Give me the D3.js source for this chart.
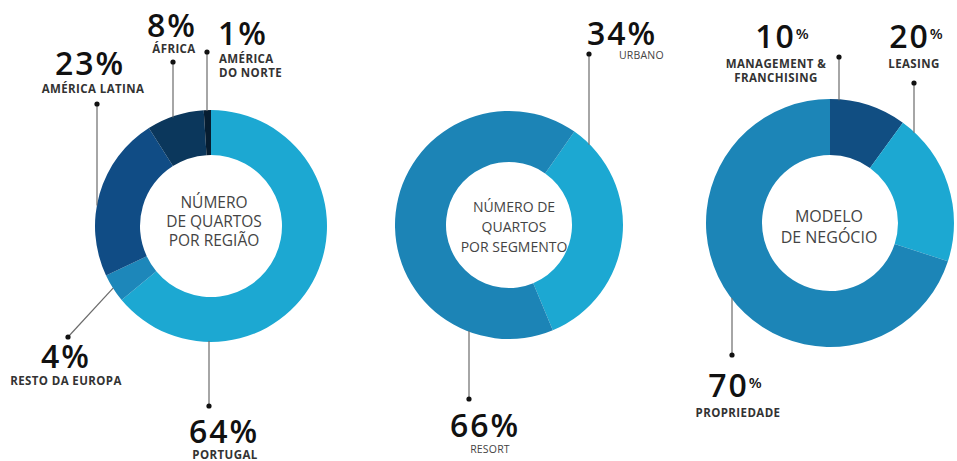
<!DOCTYPE html>
<html>
<head>
<meta charset="utf-8">
<script src="https://cdn.jsdelivr.net/npm/d3@7"></script>
<style>
  html, body { margin: 0; padding: 0; background: #fff; }
  svg { display: block; }
</style>
</head>
<body>
<svg id="chart" width="957" height="461"></svg>
<script>
// ---- Data ----
const regionCategories = ["PORTUGAL", "RESTO DA EUROPA", "AMÉRICA LATINA", "ÁFRICA", "AMÉRICA DO NORTE"];
const regionValues = [64, 4, 23, 8, 1];

const segmentCategories = ["URBANO", "RESORT"];
const segmentValues = [34, 66];

const modelCategories = ["MANAGEMENT & FRANCHISING", "LEASING", "PROPRIEDADE"];
const modelValues = [10, 20, 70];

// ---- Styles ----
const regionColors = ["#1ca8d2", "#1d87ba", "#104c85", "#0b375c", "#061d31"];
const segmentColors = ["#1ca8d2", "#1c84b6"];
const modelColors = ["#114e82", "#1ca8d2", "#1c85b7"];

const numFont = "'Open Sans', sans-serif";
const labelFont = "'Open Sans', sans-serif";

// ---- Layout of each donut and its callouts ----
const charts = [
  {
    cats: regionCategories, vals: regionValues, colors: regionColors,
    cx: 211, cy: 226, rOut: 116, rIn: 71, start: 0,
    title: ["NÚMERO", "DE QUARTOS", "POR REGIÃO"], titleX: 214, titleY: [208, 227, 246], titleSize: 15.5,
    supPercent: false,
    callouts: [
      { dot: [209, 406], to: "v", num: [223, 443, "middle"], name: [225, 459, "middle"], bold: true },
      { dot: [68, 337], to: "mid", num: [65, 368, "middle"], name: [66, 385, "middle"], bold: true },
      { dot: [97, 104], to: "v", num: [89, 75, "middle"], name: [93, 93, "middle"], bold: true },
      { dot: [173, 62], to: "v", num: [171, 37, "middle"], name: [174, 53, "middle"], bold: true },
      { dot: [207, 52], to: "v", num: [218, 45, "start"], name: [219, 63, "start"], breakAfter: 1, bold: true }
    ]
  },
  {
    cats: segmentCategories, vals: segmentValues, colors: segmentColors,
    cx: 509, cy: 225, rOut: 114, rIn: 63, start: 35 * Math.PI / 180,
    title: ["NÚMERO DE", "QUARTOS", "POR SEGMENTO"], titleX: 514, titleY: [212, 232, 252], titleSize: 14,
    supPercent: false,
    callouts: [
      { dot: [589, 54], to: "v", num: [587, 45, "start"], name: [619, 59, "start"], bold: false },
      { dot: [469, 399], to: "v", num: [484, 437, "middle"], name: [490, 453, "middle"], bold: false }
    ]
  },
  {
    cats: modelCategories, vals: modelValues, colors: modelColors,
    cx: 830, cy: 223, rOut: 124, rIn: 68, start: 0,
    title: ["MODELO", "DE NEGÓCIO"], titleX: 829, titleY: [222, 243], titleSize: 16,
    supPercent: true,
    callouts: [
      { dot: [839, 57], to: "v", num: [781, 48, "middle"], name: [776, 68, "middle"], breakAfter: 2, bold: true },
      { dot: [914, 83], to: "v", num: [915, 48, "middle"], name: [914, 68, "middle"], bold: true },
      { dot: [732, 355], to: "v", num: [734, 397, "middle"], name: [738, 417, "middle"], bold: true }
    ]
  }
];

const svg = d3.select("#chart");
svg.append("rect").attr("width", 957).attr("height", 461).attr("fill", "#fff");

charts.forEach(c => {
  const pie = d3.pie().sort(null).value(d => d)
    .startAngle(c.start).endAngle(c.start + 2 * Math.PI);
  const arcs = pie(c.vals);
  const arc = d3.arc().innerRadius(c.rIn).outerRadius(c.rOut);
  const color = d3.scaleOrdinal().domain(c.cats).range(c.colors);

  const g = svg.append("g");
  const ring = g.append("g").attr("transform", `translate(${c.cx},${c.cy})`);
  ring.selectAll("path").data(arcs).join("path")
    .attr("d", arc)
    .attr("fill", (d, i) => color(c.cats[i]));

  // Centre title
  g.append("text")
    .attr("text-anchor", "middle")
    .attr("font-family", labelFont)
    .attr("font-weight", 500)
    .attr("font-size", c.titleSize)
    .attr("fill", "#444")
    .selectAll("tspan").data(c.title).join("tspan")
    .attr("x", c.titleX)
    .attr("y", (d, i) => c.titleY[i])
    .text(d => d);

  // Callouts: leader line, dot, value and name
  arcs.forEach((a, i) => {
    const co = c.callouts[i];
    const [dx, dy] = co.dot;
    let ex, ey;
    if (co.to === "mid") {
      const m = (a.startAngle + a.endAngle) / 2;
      ex = c.cx + c.rOut * Math.sin(m);
      ey = c.cy - c.rOut * Math.cos(m);
    } else {
      const off = dx - c.cx;
      const h = Math.sqrt(Math.max(0, c.rOut * c.rOut - off * off));
      ex = dx;
      ey = dy < c.cy ? c.cy - h + 1 : c.cy + h - 1;
    }
    g.append("line")
      .attr("x1", dx).attr("y1", dy).attr("x2", ex).attr("y2", ey)
      .attr("stroke", "#6b6b6b").attr("stroke-width", 1.2);
    g.append("circle").attr("cx", dx).attr("cy", dy).attr("r", 2.6).attr("fill", "#111");

    const num = g.append("text")
      .attr("x", co.num[0] + (co.num[2] === "middle" ? 1 : 0)).attr("y", co.num[1])
      .attr("text-anchor", co.num[2])
      .attr("font-family", numFont)
      .attr("font-weight", 600)
      .attr("font-size", 32)
      .attr("letter-spacing", 2)
      .attr("fill", "#111");
    if (c.supPercent) {
      num.append("tspan").text(c.vals[i]);
      num.append("tspan").attr("font-size", 15).attr("letter-spacing", 0).attr("dy", -9).attr("dx", 0).text("%");
    } else {
      num.text(c.vals[i] + "%");
    }

    const words = c.cats[i].split(" ");
    const lines = co.breakAfter
      ? [words.slice(0, co.breakAfter).join(" "), words.slice(co.breakAfter).join(" ")]
      : [c.cats[i]];
    g.append("text")
      .attr("text-anchor", co.name[2])
      .attr("font-family", labelFont)
      .attr("font-weight", co.bold ? 700 : 400)
      .attr("font-size", co.bold ? 11.5 : 10.5)
      .attr("letter-spacing", co.bold ? 0.4 : 0.2)
      .attr("fill", co.bold ? "#333" : "#444")
      .selectAll("tspan").data(lines).join("tspan")
      .attr("x", co.name[0])
      .attr("y", (d, k) => co.name[1] + k * 13.5)
      .text(d => d);
  });
});
</script>
</body>
</html>
